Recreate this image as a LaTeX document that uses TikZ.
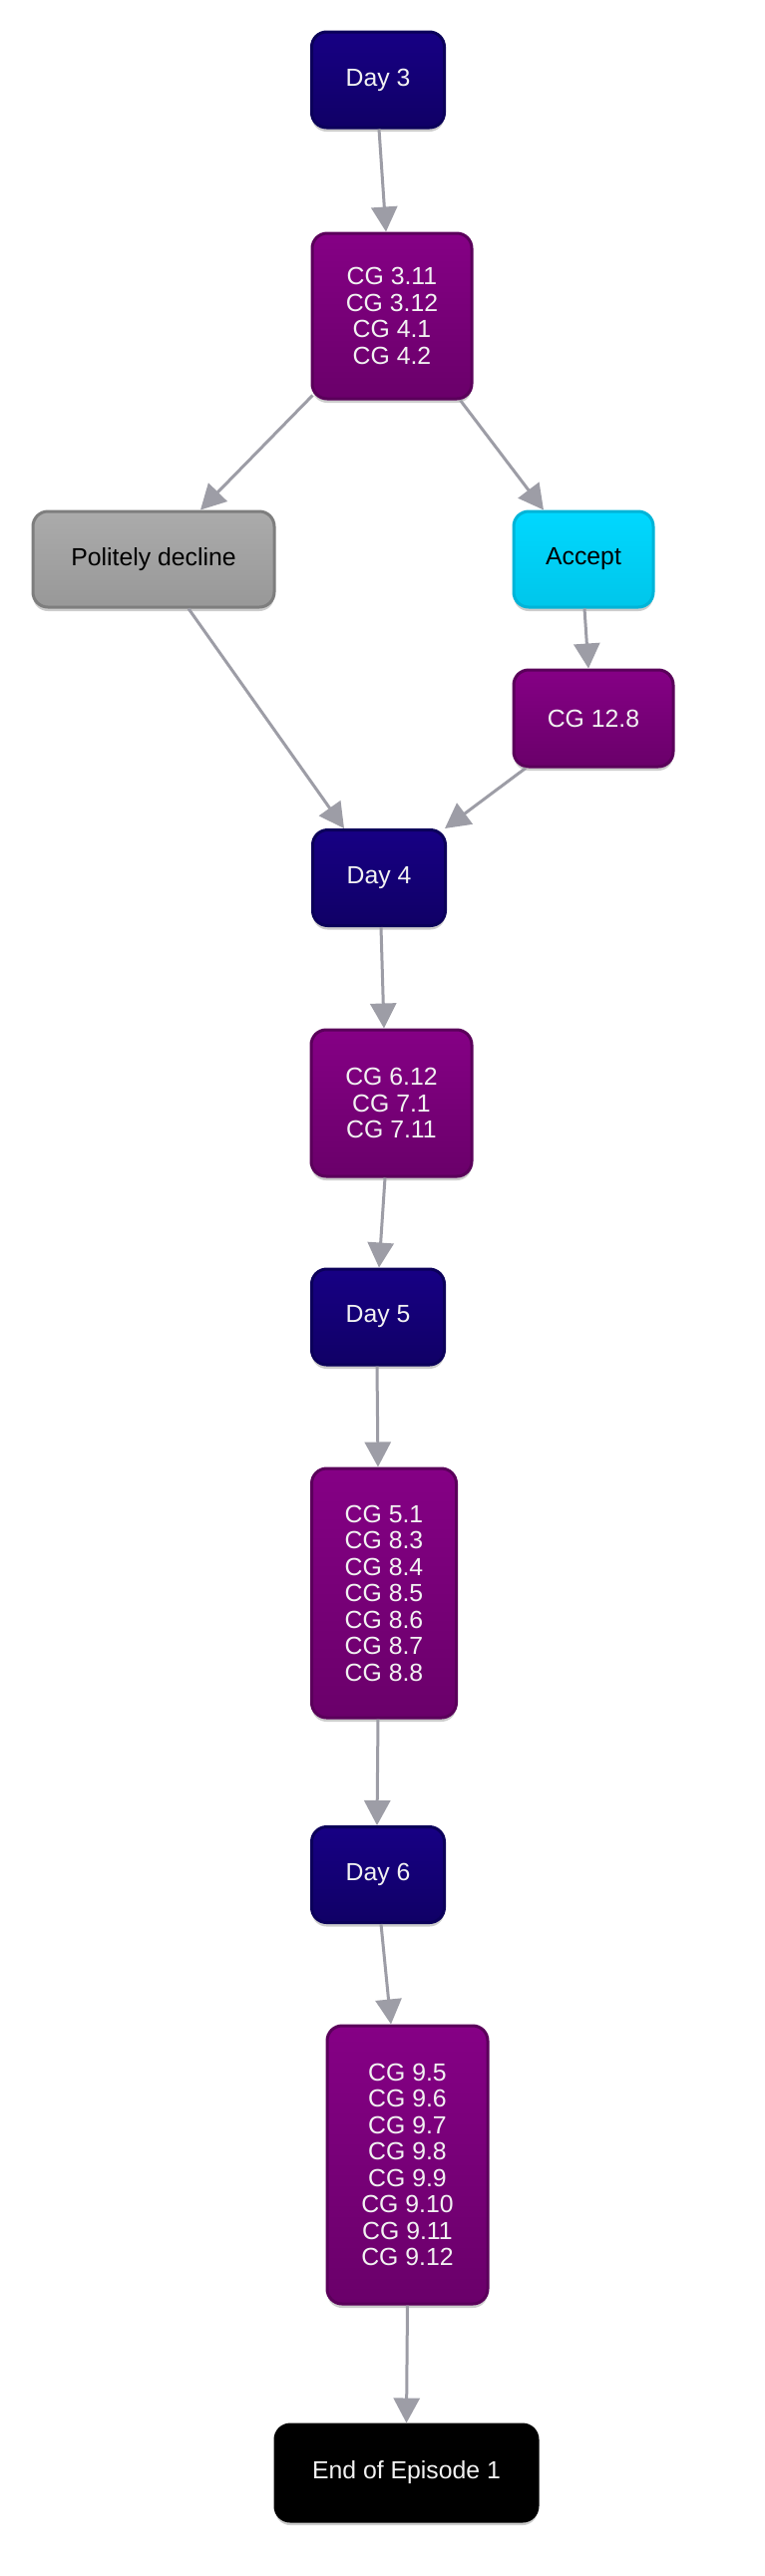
\documentclass[tikz,border=0pt]{standalone}
\usepackage{fontspec}
\setmainfont{Liberation Sans}
\usetikzlibrary{arrows.meta,shadows}
\definecolor{dayTop}{HTML}{170084}
\definecolor{dayBot}{HTML}{100066}
\definecolor{dayLine}{HTML}{0B005A}
\definecolor{cgTop}{HTML}{850085}
\definecolor{cgBot}{HTML}{6A006A}
\definecolor{cgLine}{HTML}{5A005A}
\definecolor{grTop}{HTML}{ABABAB}
\definecolor{grBot}{HTML}{989898}
\definecolor{grLine}{HTML}{7E7E7E}
\definecolor{cyTop}{HTML}{00D8FF}
\definecolor{cyBot}{HTML}{00C6EA}
\definecolor{cyLine}{HTML}{00B4D8}
\definecolor{edgeCol}{HTML}{9D9DA6}
\definecolor{txtLight}{HTML}{F2F2F2}
\begin{document}
\begin{tikzpicture}[x=1pt,y=-1pt,
  base/.style={rectangle, rounded corners=15pt, line width=3pt, inner sep=0pt, align=center,
    font=\fontsize{24.8}{26.5}\selectfont,
    drop shadow={shadow xshift=0pt, shadow yshift=-4pt, opacity=0.2, fill=black}},
  daybox/.style={base, draw=dayLine, top color=dayTop, bottom color=dayBot, text=txtLight,
    minimum width=133pt, minimum height=96pt},
  cgbox/.style={base, draw=cgLine, top color=cgTop, bottom color=cgBot, text=txtLight},
  greybox/.style={base, draw=grLine, top color=grTop, bottom color=grBot, text=black},
  cyanbox/.style={base, draw=cyLine, top color=cyTop, bottom color=cyBot, text=black},
  endbox/.style={base, draw=black, fill=black, text=txtLight},
  conn/.style={draw=edgeCol, line width=3pt, -{Triangle[length=25pt,width=26pt]}}
]
\useasboundingbox (0,0) rectangle (766,2584);

\node[daybox] (d3) at (379,80) {Day 3};
\node[cgbox, minimum width=160pt, minimum height=166pt] (cg3) at (393,317) {CG 3.11\\CG 3.12\\CG 4.1\\CG 4.2};
\node[greybox, minimum width=242pt, minimum height=96pt] (pol) at (154,561) {Politely decline};
\node[cyanbox, minimum width=140pt, minimum height=96pt] (acc) at (585,561) {Accept};
\node[cgbox, minimum width=160pt, minimum height=97pt] (cg12) at (595,720.5) {CG 12.8};
\node[daybox] (d4) at (380,880.5) {Day 4};
\node[cgbox, minimum width=161pt, minimum height=147pt] (cg6) at (392.5,1106.5) {CG 6.12\\CG 7.1\\CG 7.11};
\node[daybox] (d5) at (379,1321) {Day 5};
\node[cgbox, minimum width=145pt, minimum height=250pt] (cg5) at (385,1598) {CG 5.1\\CG 8.3\\CG 8.4\\CG 8.5\\CG 8.6\\CG 8.7\\CG 8.8};
\node[daybox] (d6) at (379,1880.5) {Day 6};
\node[cgbox, minimum width=161pt, minimum height=279pt] (cg9) at (408.5,2171.5) {CG 9.5\\CG 9.6\\CG 9.7\\CG 9.8\\CG 9.9\\CG 9.10\\CG 9.11\\CG 9.12};
\node[endbox, minimum width=263pt, minimum height=97pt] (end) at (407.5,2480.5) {End of Episode 1};

\draw[conn] ([xshift=1pt]d3.south) -- ([xshift=-6pt]cg3.north);
\draw[conn] ([xshift=2pt,yshift=5pt]cg3.south west) -- ([xshift=47pt]pol.north);
\draw[conn] ([xshift=-13pt]cg3.south east) -- ([xshift=-40pt]acc.north);
\draw[conn] ([xshift=35pt]pol.south) -- ([xshift=-35pt]d4.north);
\draw[conn] ([xshift=1pt]acc.south) -- ([xshift=-5pt]cg12.north);
\draw[conn] ([xshift=-68pt]cg12.south) -- ([xshift=-2pt]d4.north east);
\draw[conn] ([xshift=2pt]d4.south) -- ([xshift=-7.5pt]cg6.north);
\draw[conn] ([xshift=-6.5pt]cg6.south) -- ([xshift=1pt]d5.north);
\draw[conn] ([xshift=-1pt]d5.south) -- ([xshift=-6pt]cg5.north);
\draw[conn] ([xshift=-6pt]cg5.south) -- ([xshift=-1pt]d6.north);
\draw[conn] ([xshift=3pt]d6.south) -- ([xshift=-16.5pt]cg9.north);
\draw[conn] (cg9.south) -- (end.north);
\end{tikzpicture}
\end{document}
